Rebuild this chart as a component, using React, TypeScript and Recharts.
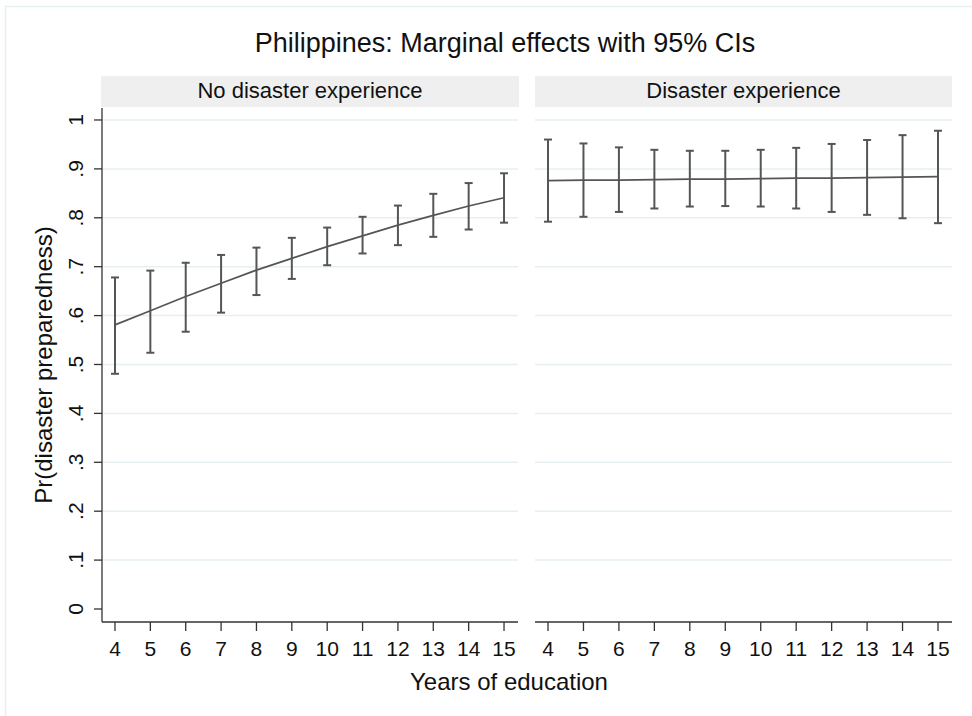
import React from "react";
import { ComposedChart, Line, XAxis, YAxis, CartesianGrid, ErrorBar } from "recharts";

const years = [4, 5, 6, 7, 8, 9, 10, 11, 12, 13, 14, 15];

// No disaster experience
const noExpMean = [0.581, 0.610, 0.639, 0.666, 0.693, 0.717, 0.741, 0.763, 0.785, 0.805, 0.824, 0.841];
const noExpLow = [0.481, 0.524, 0.567, 0.606, 0.642, 0.675, 0.703, 0.727, 0.744, 0.761, 0.776, 0.790];
const noExpHigh = [0.678, 0.692, 0.708, 0.724, 0.739, 0.759, 0.780, 0.802, 0.825, 0.849, 0.871, 0.891];

// Disaster experience
const expMean = [0.876, 0.877, 0.877, 0.878, 0.879, 0.879, 0.880, 0.881, 0.881, 0.882, 0.883, 0.884];
const expLow = [0.792, 0.802, 0.812, 0.819, 0.823, 0.824, 0.823, 0.819, 0.812, 0.806, 0.799, 0.789];
const expHigh = [0.960, 0.952, 0.944, 0.939, 0.937, 0.937, 0.939, 0.943, 0.951, 0.959, 0.969, 0.978];

const yTicks = [0, 0.1, 0.2, 0.3, 0.4, 0.5, 0.6, 0.7, 0.8, 0.9, 1];
const gridValues = [0.1, 0.2, 0.3, 0.4, 0.5, 0.6, 0.7, 0.8, 0.9, 1];

const FONT = "'Liberation Sans', Arial, Helvetica, sans-serif";
const INK = "#555555";
const AXIS = "#333333";
const GRID = "#e6eff1";

const X_DOMAIN: [number, number] = [3.633, 15.395];
const Y_DOMAIN: [number, number] = [-0.0266, 1.0245];

function build(mean: number[], low: number[], high: number[]) {
  return years.map((yr, i) => ({
    year: yr,
    mean: mean[i],
    err: [mean[i] - low[i], high[i] - mean[i]],
  }));
}

const leftData = build(noExpMean, noExpLow, noExpHigh);
const rightData = build(expMean, expLow, expHigh);

const fmtY = (v: number) => (v === 0 ? "0" : v === 1 ? "1" : "." + Math.round(v * 10));

function RotatedTick(props: any) {
  const { x, y, payload } = props;
  return (
    <text
      x={x}
      y={y}
      transform={`rotate(-90, ${x}, ${y})`}
      textAnchor="middle"
      fontSize={21}
      fontFamily={FONT}
      fill="#111"
    >
      {fmtY(payload.value)}
    </text>
  );
}

function Panel({ data, showY, margin, width }: { data: any[]; showY: boolean; margin: any; width: number }) {
  return (
    <ComposedChart width={width} height={716} data={data} margin={margin}>
      <CartesianGrid vertical={false} horizontalValues={gridValues} stroke={GRID} strokeWidth={1.5} />
      <XAxis
        dataKey="year"
        type="number"
        domain={X_DOMAIN}
        ticks={years}
        height={94}
        tickSize={9}
        tickMargin={10}
        stroke={AXIS}
        strokeWidth={1.3}
        tick={{ fontSize: 21, fontFamily: FONT, fill: "#111" }}
        allowDataOverflow
      />
      <YAxis
        type="number"
        domain={Y_DOMAIN}
        ticks={yTicks}
        hide={!showY}
        width={showY ? 102 : 0}
        tickSize={8}
        tickMargin={11}
        stroke={AXIS}
        strokeWidth={1.3}
        tick={<RotatedTick />}
        allowDataOverflow
      />
      <Line
        dataKey="mean"
        type="linear"
        stroke={INK}
        strokeWidth={1.7}
        dot={false}
        isAnimationActive={false}
      >
        <ErrorBar dataKey="err" width={4} stroke={INK} strokeWidth={2} direction="y" />
      </Line>
    </ComposedChart>
  );
}

export default function App() {
  return (
    <div style={{ position: "absolute", left: 0, top: 0, width: 972, height: 716, background: "#fff", fontFamily: FONT }}>
      <svg width={972} height={716} style={{ position: "absolute", left: 0, top: 0 }}>
        <rect x={5.5} y={6.5} width={990} height={730} fill="none" stroke={GRID} strokeWidth={1.5} />
        <text x={505} y={52} textAnchor="middle" fontSize={27} fontFamily={FONT} fill="#111">
          Philippines: Marginal effects with 95% CIs
        </text>
        <rect x={101} y={76} width={418} height={31} fill="#efefef" />
        <rect x={535} y={76} width={417} height={31} fill="#efefef" />
        <text x={310} y={98} textAnchor="middle" fontSize={22} fontFamily={FONT} fill="#111">
          No disaster experience
        </text>
        <text x={743.5} y={98} textAnchor="middle" fontSize={22} fontFamily={FONT} fill="#111">
          Disaster experience
        </text>
        <text x={509} y={690} textAnchor="middle" fontSize={24} fontFamily={FONT} fill="#111">
          Years of education
        </text>
        <text
          x={52}
          y={365}
          transform="rotate(-90, 52, 365)"
          textAnchor="middle"
          fontSize={24}
          fontFamily={FONT}
          fill="#111"
        >
          Pr(disaster preparedness)
        </text>
      </svg>
      <div style={{ position: "absolute", left: 0, top: 0 }}>
        <Panel data={leftData} showY={true} width={530} margin={{ top: 108, right: 12, bottom: 0, left: 0 }} />
      </div>
      <div style={{ position: "absolute", left: 530, top: 0 }}>
        <Panel data={rightData} showY={false} width={430} margin={{ top: 108, right: 8, bottom: 0, left: 5 }} />
      </div>
    </div>
  );
}
